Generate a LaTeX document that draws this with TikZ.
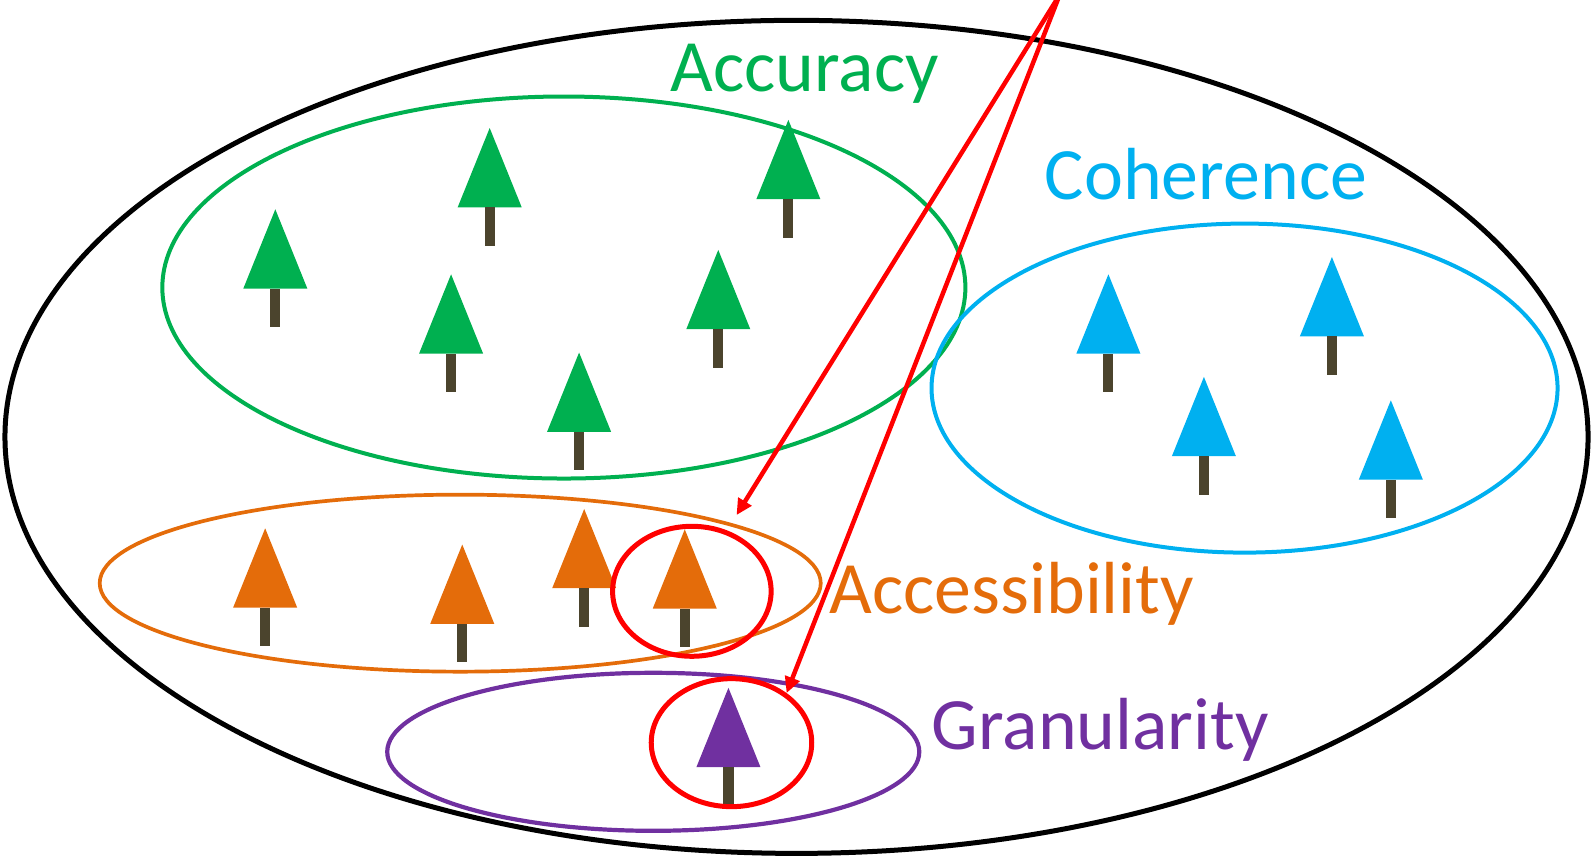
\documentclass[tikz,border=0pt]{standalone}
\usepackage{fontspec}
\setmainfont{Carlito}
\usetikzlibrary{arrows.meta, positioning, shapes.geometric}

\definecolor{accgreen}{HTML}{00B050}
\definecolor{cohblue}{HTML}{00B0F0}
\definecolor{accorange}{HTML}{E46C0A}
\definecolor{granpurple}{HTML}{7030A0}
\definecolor{pickred}{HTML}{FF0000}
\definecolor{trunk}{HTML}{4B442D}

\begin{document}
\begin{tikzpicture}[x=0.1016mm, y=-0.1016mm,
    % Define styles
    set/.style={ellipse, draw, inner sep=0pt, line width=0.4mm},
    pick/.style={ellipse, draw=pickred, line width=0.5mm, inner sep=0pt},
    tag/.style={anchor=base, inner sep=0pt, font=\fontsize{21}{25}\selectfont},
    pointer/.style={-{Triangle[length=1.6mm, width=1.5mm]}, draw=pickred, line width=0.45mm},
    tree/.pic={
        \fill[#1] (-31.5,78) -- (0,0) -- (31.5,78) -- cycle;
        \fill[trunk] (-5,78) rectangle (5,116);
    }
]
    \useasboundingbox (0,0) rectangle (1568,843.5);
    \clip (0,0) rectangle (1568,843.5);

    % Create the sets
    \node[set, line width=0.5mm, minimum width=158.3mm, minimum height=83.3mm] (all) at (784,430) {};
    \node[set, draw=accgreen, minimum width=80.3mm, minimum height=38.2mm] (accuracy) at (555,283) {};
    \node[set, draw=cohblue, minimum width=62.6mm, minimum height=32.9mm] (coherence) at (1225,382) {};
    \node[set, draw=accorange, line width=0.37mm, minimum width=72.1mm, minimum height=17.7mm] (access) at (453,574) {};
    \node[set, draw=granpurple, line width=0.42mm, minimum width=53.2mm, minimum height=15.8mm] (gran) at (643,740) {};

    % Trees
    \pic at (271,206) {tree=accgreen};
    \pic at (482,126) {tree=accgreen};
    \pic at (776,118) {tree=accgreen};
    \pic at (444,270) {tree=accgreen};
    \pic at (707,246) {tree=accgreen};
    \pic at (570,347) {tree=accgreen};

    \pic at (1091,270) {tree=cohblue};
    \pic at (1311,253) {tree=cohblue};
    \pic at (1185,371) {tree=cohblue};
    \pic at (1369,394) {tree=cohblue};

    \pic at (261,520) {tree=accorange};
    \pic at (455,536) {tree=accorange};
    \pic at (575,501) {tree=accorange};
    \pic at (674,521) {tree=accorange};

    \pic at (717,677) {tree=granpurple};

    % Picked trees
    \node[pick, minimum width=15.85mm, minimum height=13mm] (pickA) at (681,582) {};
    \node[pick, minimum width=16.05mm, minimum height=12.8mm] (pickG) at (720,731) {};

    % Labels
    \node[tag, text=accgreen] (accText) at (792,90) {Accuracy};
    \node[tag, text=cohblue] (cohText) at (1187,196) {Coherence};
    \node[tag, text=accorange] (accessText) at (996,604) {Accessibility};
    \node[tag, text=granpurple] (granText) at (1083,738) {Granularity};

    % Draw arrows to the picked trees
    \coordinate (src) at (1043,-5);
    \draw[pointer, shorten >=1.8mm] (src) -- (pickA.60);
    \draw[pointer] (src) -- (pickG.42);
\end{tikzpicture}
\end{document}
